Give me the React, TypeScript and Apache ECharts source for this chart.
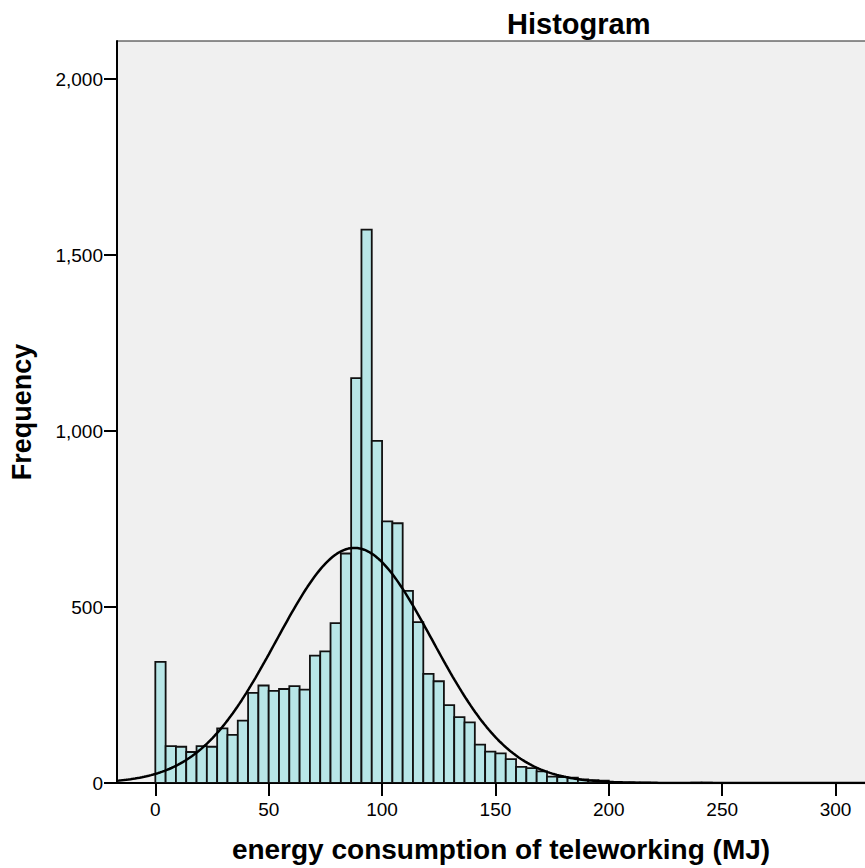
import React, { useEffect, useRef } from "react";
import * as echarts from "echarts";

// Histogram bins: start at 0, width 50/11 units
const BIN_START = 0;
const BIN_WIDTH = 50 / 11;
const binCounts = [
  344, 105, 103, 88, 105, 103, 155, 137, 177, 256, 277, 262, 267, 275, 265, 362,
  374, 454, 652, 1150, 1572, 972, 743, 738, 546, 457, 310, 289, 221, 187, 172,
  109, 89, 84, 68, 46, 42, 33, 18, 17, 15, 10, 8, 7, 3, 1, 1, 1, 0, 0, 0, 0, 1, 1,
];
const xTickValues = [0, 50, 100, 150, 200, 250, 300];
const yTickValues = [0, 500, 1000, 1500, 2000];
// fitted normal curve parameters
const curveMean = 87.8;
const curveSd = 34.4;

const X_MIN = -16.9;
const X_MAX = 321.8;
const Y_MAX = 2108;

const FONT = "'Liberation Sans', Arial, sans-serif";

export default function App() {
  const ref = useRef<HTMLDivElement>(null);
  useEffect(() => {
    if (!ref.current) return;
    const chart = echarts.init(ref.current, undefined, { renderer: "svg" });
    const total = binCounts.reduce((a, b) => a + b, 0);
    const barData = binCounts.map((c, i) => [
      BIN_START + i * BIN_WIDTH,
      BIN_START + (i + 1) * BIN_WIDTH,
      c,
    ]);
    const curve: number[][] = [];
    for (let x = X_MIN; x <= X_MAX; x += 1) {
      const z = (x - curveMean) / curveSd;
      curve.push([
        x,
        (total * BIN_WIDTH * Math.exp(-0.5 * z * z)) / (curveSd * Math.sqrt(2 * Math.PI)),
      ]);
    }
    chart.setOption({
      animation: false,
      backgroundColor: "#ffffff",
      title: {
        text: "Histogram",
        left: 502,
        top: 4,
        textStyle: { fontFamily: FONT, fontSize: 29, fontWeight: "bold", color: "#000" },
      },
      grid: {
        left: 117,
        top: 41,
        right: 0,
        bottom: 83,
        show: true,
        backgroundColor: "#f0f0f0",
        borderColor: "#222",
        borderWidth: 1,
      },
      xAxis: {
        type: "value",
        min: X_MIN,
        max: X_MAX,
        name: "energy consumption of teleworking (MJ)",
        nameLocation: "middle",
        nameGap: 52,
        nameTextStyle: { fontFamily: FONT, fontSize: 28, fontWeight: "bold", color: "#000" },
        axisLine: { show: true, onZero: false, lineStyle: { color: "#000", width: 2 } },
        axisTick: {
          show: true,
          length: 13,
          customValues: xTickValues,
          lineStyle: { color: "#000", width: 2 },
        },
        axisLabel: {
          customValues: xTickValues,
          margin: 17,
          fontFamily: FONT,
          fontSize: 19,
          color: "#000",
        },
        splitLine: { show: false },
      },
      yAxis: {
        type: "value",
        min: 0,
        max: Y_MAX,
        name: "Frequency",
        nameLocation: "middle",
        nameGap: 82,
        nameRotate: 90,
        nameTextStyle: { fontFamily: FONT, fontSize: 27, fontWeight: "bold", color: "#000" },
        axisLine: { show: true, onZero: false, lineStyle: { color: "#000", width: 2 } },
        axisTick: {
          show: true,
          length: 13,
          customValues: yTickValues,
          lineStyle: { color: "#000", width: 2 },
        },
        axisLabel: {
          customValues: yTickValues,
          margin: 14,
          fontFamily: FONT,
          fontSize: 19,
          color: "#000",
          formatter: (v: number) => v.toLocaleString("en-US"),
        },
        splitLine: { show: false },
      },
      series: [
        {
          type: "custom",
          clip: true,
          encode: { x: [0, 1], y: 2 },
          data: barData,
          renderItem: (params: any, api: any) => {
            const v = api.value(2);
            if (!v) return null;
            const p0 = api.coord([api.value(0), v]);
            const p1 = api.coord([api.value(1), 0]);
            return {
              type: "rect",
              shape: { x: p0[0], y: p0[1], width: p1[0] - p0[0], height: p1[1] - p0[1] },
              style: { fill: "#b8e6e7", stroke: "#111", lineWidth: 1.8 },
            };
          },
          z: 2,
        },
        {
          type: "line",
          data: curve,
          showSymbol: false,
          symbol: "none",
          smooth: false,
          lineStyle: { color: "#000", width: 2.5 },
          z: 3,
        },
      ],
    });
    return () => chart.dispose();
  }, []);
  return (
    <div
      ref={ref}
      style={{ position: "fixed", left: 0, top: 0, width: 885, height: 868 }}
    />
  );
}
